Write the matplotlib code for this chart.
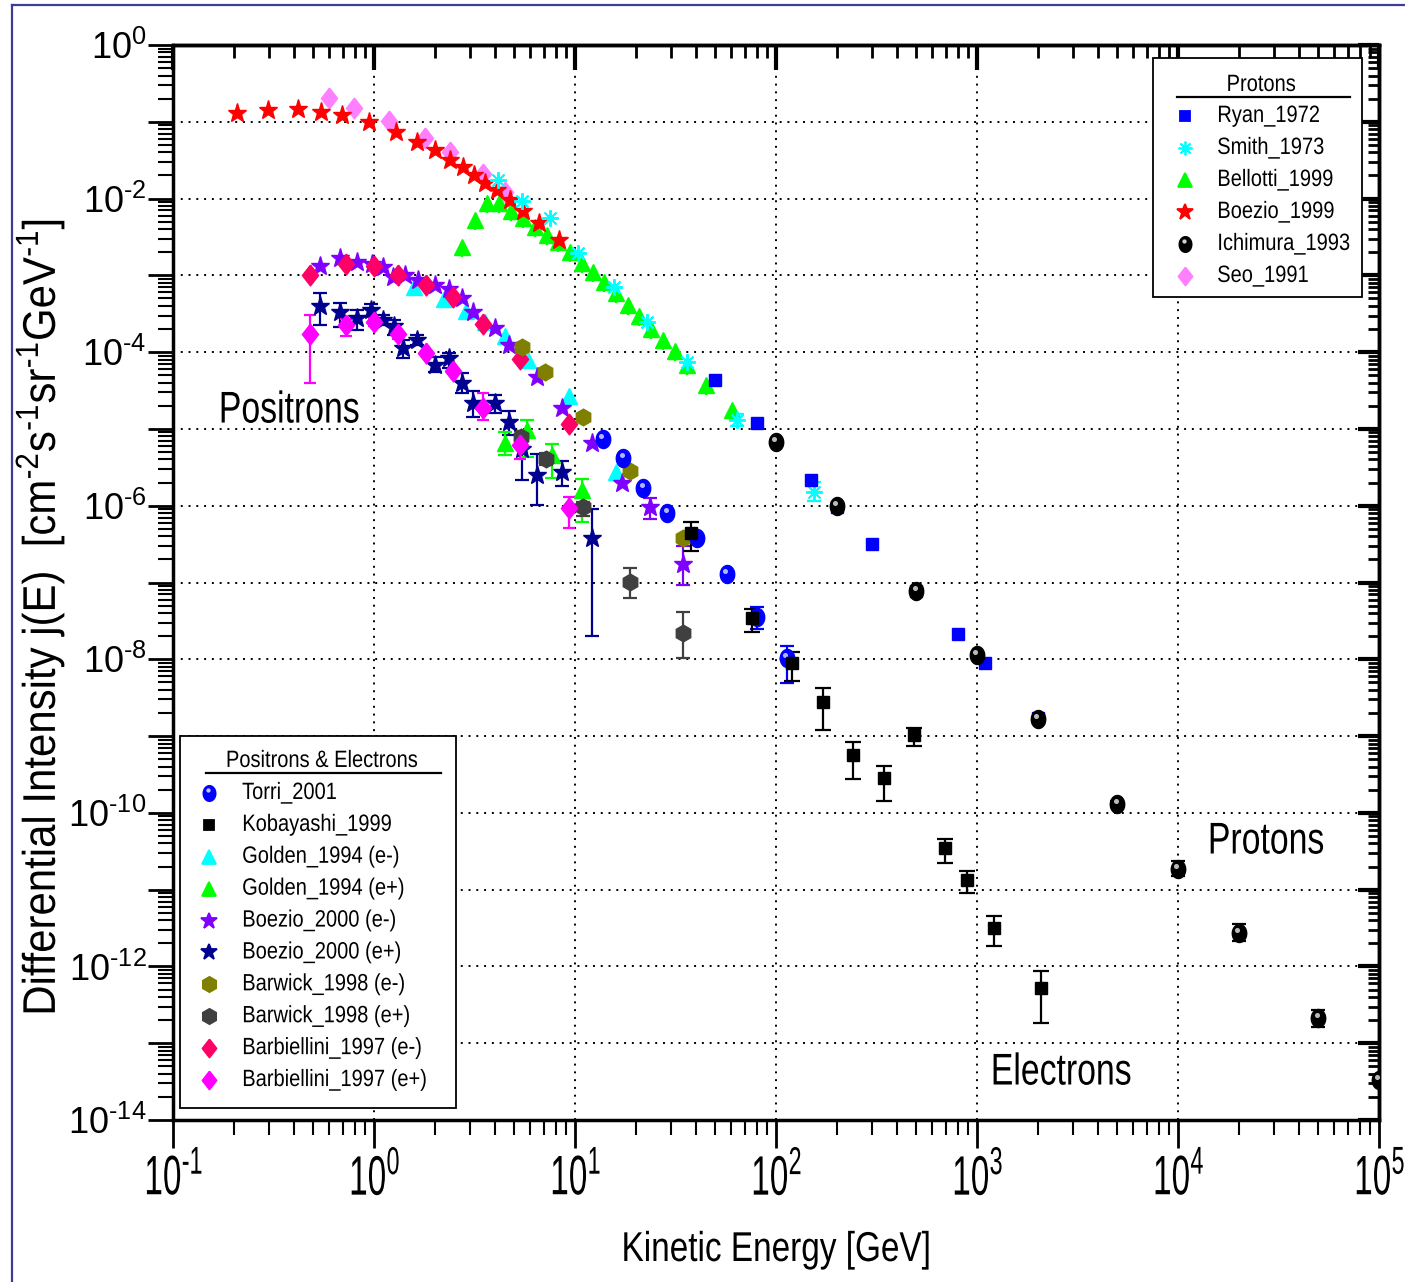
import numpy as np
import matplotlib
matplotlib.use("Agg")
import matplotlib.pyplot as plt
from matplotlib.ticker import FixedLocator, FuncFormatter, NullFormatter
from matplotlib.lines import Line2D
from matplotlib.patches import Rectangle
from matplotlib.transforms import ScaledTranslation, Affine2D
from matplotlib.patheffects import AbstractPathEffect

SANS = "Liberation Sans"
plt.rcParams["font.family"] = [SANS, "DejaVu Sans"]
plt.rcParams["mathtext.fontset"] = "custom"
plt.rcParams["mathtext.rm"] = SANS
plt.rcParams["mathtext.it"] = SANS
plt.rcParams["mathtext.bf"] = SANS
plt.rcParams["mathtext.sf"] = SANS

HY = "\u2010"  # short hyphen used in exponents

# ---------------- proton data ----------------
ryan_E = [50, 80, 150, 200, 300, 500, 800, 1100, 2000]
ryan_j = [4.35e-5, 1.19e-5, 2.13e-6, 9.5e-7, 3.16e-7, 7.8e-8, 2.12e-8, 8.9e-9, 1.72e-9]

smith_E = [4.14, 5.43, 7.51, 10.4, 15.6, 22.7, 35.9, 64.3, 154.5]
smith_j = [1.75e-2, 9.3e-3, 5.54e-3, 1.94e-3, 7.0e-4, 2.49e-4, 7.5e-5, 1.31e-5, 1.53e-6]
smith_lo = [1.75e-2, 9.3e-3, 5.54e-3, 1.94e-3, 7.0e-4, 2.49e-4, 7.5e-5, 1.09e-5, 1.16e-6]
smith_hi = [1.75e-2, 9.3e-3, 5.54e-3, 1.94e-3, 7.0e-4, 2.49e-4, 7.5e-5, 1.57e-5, 2.02e-6]

bellotti_E = [2.75, 3.18, 3.66, 4.21, 4.81, 5.53, 6.32, 7.23, 8.20, 9.44, 10.8,
              12.3, 14.0, 16.0, 18.3, 20.9, 23.9, 27.5, 31.5, 36.2, 44.9, 60.3]
bellotti_j = [2.37e-3, 5.26e-3, 8.85e-3, 8.69e-3, 6.90e-3, 5.53e-3, 4.23e-3, 3.36e-3,
              2.75e-3, 2.04e-3, 1.47e-3, 1.12e-3, 8.1e-4, 5.85e-4, 4.12e-4, 2.99e-4,
              1.99e-4, 1.44e-4, 1.02e-4, 6.8e-5, 3.74e-5, 1.77e-5]

boezio99_E = [0.207, 0.298, 0.417, 0.545, 0.693, 0.944, 1.29, 1.63, 2.01, 2.39, 2.78,
              3.15, 3.57, 4.08, 4.75, 5.53, 6.64, 8.36]
boezio99_j = [0.129, 0.1425, 0.1455, 0.135, 0.123, 0.100, 0.0743, 0.0551, 0.0429, 0.0318,
              0.0256, 0.0203, 0.0158, 0.01294, 0.00959, 0.00695, 0.00485, 0.00289]

ichimura_E = [100, 200, 500, 1000, 2000, 5000, 1e4, 2e4, 5e4, 1e5]
ichimura_j = [6.84e-6, 1.0e-6, 7.8e-8, 1.13e-8, 1.67e-9, 1.31e-10, 1.87e-11, 2.76e-12,
              2.12e-13, 3.33e-14]
ichimura_lo = [6.84e-6, 1.0e-6, 7.8e-8, 1.13e-8, 1.67e-9, 1.20e-10, 1.49e-11, 2.14e-12,
               1.65e-13, 3.33e-14]
ichimura_hi = [6.84e-6, 1.0e-6, 7.8e-8, 1.13e-8, 1.67e-9, 1.43e-10, 2.35e-11, 3.56e-12,
               2.72e-13, 3.33e-14]

seo_E = [0.600, 0.795, 1.19, 1.79, 2.39, 3.47, 4.48]
seo_j = [0.202, 0.153, 0.102, 0.061, 0.0408, 0.0207, 0.0123]

# ---------------- positron & electron data ----------------
torri_E = [13.8, 17.4, 21.9, 28.8, 40.3, 56.9, 80.2, 113]
torri_j = [7.41e-6, 4.16e-6, 1.72e-6, 7.99e-7, 3.77e-7, 1.28e-7, 3.6e-8, 1.03e-8]
torri_lo = [7.41e-6, 4.16e-6, 1.72e-6, 7.99e-7, 3.77e-7, 1.28e-7, 2.47e-8, 4.98e-9]
torri_hi = [7.41e-6, 4.16e-6, 1.72e-6, 7.99e-7, 3.77e-7, 1.28e-7, 4.81e-8, 1.51e-8]

kobayashi_E = [37.6, 75.7, 120.8, 171.8, 242.5, 346, 488, 693, 895, 1219, 2081]
kobayashi_j = [4.38e-7, 3.43e-8, 8.9e-9, 2.81e-9, 5.69e-10, 2.83e-10, 1.04e-9, 3.47e-11,
               1.34e-11, 3.16e-12, 5.31e-13]
kobayashi_lo = [2.58e-7, 2.25e-8, 5.24e-9, 1.21e-9, 2.77e-10, 1.43e-10, 7.52e-10, 2.21e-11,
                9.0e-12, 1.82e-12, 1.86e-13]
kobayashi_hi = [6.21e-7, 4.49e-8, 1.23e-8, 4.28e-9, 8.48e-10, 4.13e-10, 1.29e-9, 4.58e-11,
                1.77e-11, 4.47e-12, 8.59e-13]

golden_em_E = [1.58, 2.24, 2.87, 3.57, 4.48, 5.86, 9.36, 16.0]
golden_em_j = [7.06e-4, 4.96e-4, 3.47e-4, 2.49e-4, 1.61e-4, 7.91e-5, 2.67e-5, 2.78e-6]

golden_ep_E = [4.48, 5.80, 7.69, 10.8]
golden_ep_j = [6.52e-6, 9.56e-6, 4.52e-6, 1.61e-6]
golden_ep_lo = [4.6e-6, 4.36e-6, 2.27e-6, 6.21e-7]
golden_ep_hi = [9.0e-6, 1.31e-5, 6.28e-6, 2.23e-6]

boezio00_em_E = [0.539, 0.677, 0.826, 0.975, 1.11, 1.24, 1.43, 1.65, 2.01, 2.37, 2.75,
                 3.10, 4.00, 4.70, 6.45, 8.59, 12.1, 17.1, 23.6, 34.3]
boezio00_em_j = [1.33e-3, 1.67e-3, 1.51e-3, 1.41e-3, 1.30e-3, 9.53e-4, 1.02e-3, 8.71e-4,
                 7.5e-4, 6.65e-4, 5.04e-4, 3.37e-4, 2.08e-4, 1.24e-4, 4.80e-5, 1.86e-5,
                 6.52e-6, 1.96e-6, 9.73e-7, 1.75e-7]
boezio00_em_lo = boezio00_em_j[:18] + [6.67e-7, 9.3e-8]
boezio00_em_hi = boezio00_em_j[:18] + [1.27e-6, 3.0e-7]

boezio00_ep_E = [0.539, 0.677, 0.826, 0.963, 1.11, 1.26, 1.40, 1.64, 2.01, 2.37, 2.73,
                 3.10, 4.00, 4.71, 5.45, 6.47, 8.59, 12.1]
boezio00_ep_j = [4.0e-4, 3.37e-4, 2.76e-4, 3.54e-4, 2.63e-4, 2.19e-4, 1.12e-4, 1.44e-4,
                 6.8e-5, 8.33e-5, 4.01e-5, 2.2e-5, 2.16e-5, 1.23e-5, 5.41e-6, 2.52e-6,
                 2.78e-6, 3.77e-7]
boezio00_ep_lo = [2.26e-4, 2.15e-4, 1.95e-4, 2.96e-4, 2.26e-4, 1.67e-4, 8.33e-5, 1.24e-4,
                  5.47e-5, 6.28e-5, 2.92e-5, 1.45e-5, 1.63e-5, 8.22e-6, 2.17e-6, 1.02e-6,
                  1.83e-6, 2.04e-8]
boezio00_ep_hi = [5.86e-4, 4.41e-4, 3.54e-4, 4.24e-4, 3.05e-4, 2.63e-4, 1.44e-4, 1.67e-4,
                  8.6e-5, 9.68e-5, 5.31e-5, 3.15e-5, 2.77e-5, 1.73e-5, 7.94e-6, 4.72e-6,
                  3.78e-6, 9.0e-7]

barwick_em_E = [5.43, 7.13, 11.0, 18.8, 34.6]
barwick_em_j = [1.18e-4, 5.57e-5, 1.45e-5, 2.8e-6, 3.77e-7]

barwick_ep_E = [5.38, 7.14, 11.0, 18.8, 34.3]
barwick_ep_j = [7.94e-6, 4.07e-6, 9.5e-7, 1.03e-7, 2.19e-8]
barwick_ep_lo = [6.8e-6, 3.4e-6, 7.36e-7, 6.36e-8, 1.03e-8]
barwick_ep_hi = [9.3e-6, 4.9e-6, 1.13e-6, 1.56e-7, 4.1e-8]

barbiellini_E = [0.481, 0.726, 1.0, 1.32, 1.81, 2.46, 3.47, 5.33, 9.36]
barbiellini_em_j = [1.02e-3, 1.41e-3, 1.34e-3, 9.97e-4, 7.5e-4, 5.24e-4, 2.3e-4, 8.09e-5, 1.17e-5]
barbiellini_ep_j = [1.71e-4, 2.26e-4, 2.49e-4, 1.71e-4, 9.84e-5, 5.69e-5, 1.86e-5, 6.19e-6, 9.27e-7]
barbiellini_ep_lo = [4.01e-5, 1.63e-4, 2.2e-4, 1.5e-4, 9.2e-5, 5.3e-5, 1.31e-5, 4.03e-6, 5.09e-7]
barbiellini_ep_hi = [3.05e-4, 2.68e-4, 2.8e-4, 1.9e-4, 1.05e-4, 6.1e-5, 2.92e-5, 8.1e-6, 1.31e-6]


class Squeeze(AbstractPathEffect):
    """Draw text glyphs compressed along the text direction (condensed type)."""

    def __init__(self, factor, anchor="center", angle=0.0):
        super().__init__()
        self.factor = factor
        self.anchor = anchor
        self.angle = angle

    def draw_path(self, renderer, gc, tpath, affine, rgbFace=None):
        ext = tpath.get_extents(affine)
        cy = 0.5 * (ext.y0 + ext.y1)
        cx = ext.x0 if self.anchor == "left" else 0.5 * (ext.x0 + ext.x1)
        extra = (Affine2D().translate(-cx, -cy).rotate_deg(-self.angle)
                 .scale(self.factor, 1.0).rotate_deg(self.angle).translate(cx, cy))
        renderer.draw_path(gc, tpath, affine + extra, rgbFace)


# ---------------- figure ----------------
W, H = 1405, 1282
fig = plt.figure(figsize=(W / 100, H / 100), dpi=100)
ax = fig.add_axes([173 / W, 1 - 1120 / H, 1206 / W, 1075 / H])
ax.set_xscale("log")
ax.set_yscale("log")
ax.set_xlim(0.1, 1e5)
ax.set_ylim(1e-14, 1)

# marker shapes
theta = np.linspace(0, 2 * np.pi, 41)
SPHERE = list(zip(0.8 * np.sin(theta), np.cos(theta)))
DIAMOND = [(0, 1), (0.78, 0), (0, -1), (-0.78, 0), (0, 1)]
ASTER = (8, 2, 0)


def draw(E, j, color, marker, ms, lo=None, hi=None, mew=1.0, z=3, shine=None,
         capsize=5, filled=True):
    E = np.asarray(E, float)
    j = np.asarray(j, float)
    if lo is not None:
        lo = np.asarray(lo, float)
        hi = np.asarray(hi, float)
        m = (hi > j * 1.001) | (lo < j * 0.999)
        ax.errorbar(E[m], j[m], yerr=[j[m] - lo[m], hi[m] - j[m]], fmt="none",
                    ecolor=color, elinewidth=1.6, capsize=capsize, capthick=1.6,
                    zorder=z - 0.5)
    ax.plot(E, j, ls="none", marker=marker, ms=ms, mfc=color if filled else "none",
            mec=color, mew=mew, zorder=z)
    if shine is not None:
        off = ax.transData + ScaledTranslation(-1.3 / 72, 2.2 / 72, fig.dpi_scale_trans)
        ax.plot(E, j, ls="none", marker="o", ms=ms * 0.28, mfc=shine, mec="none",
                alpha=0.9, transform=off, zorder=z + 0.1)


# protons
draw(seo_E, seo_j, "#ff80ff", DIAMOND, 15, z=3)
draw(boezio99_E, boezio99_j, "#ff0000", "*", 14, z=3.2)
draw(bellotti_E, bellotti_j, "#00ff00", "^", 12, lo=[v / 1.35 for v in bellotti_j],
     hi=bellotti_j, z=3.1, capsize=0)
draw(smith_E, smith_j, "#00ffff", ASTER, 12, lo=smith_lo, hi=smith_hi, mew=1.4, z=3.3,
     filled=False, capsize=5)
draw(ryan_E, ryan_j, "#0000ff", "s", 8.5, z=3.4)
draw(ichimura_E, ichimura_j, "#000000", SPHERE, 13, lo=ichimura_lo, hi=ichimura_hi,
     z=3.5, shine="#d0d0d0", capsize=5)

# positrons and electrons
draw(golden_em_E, golden_em_j, "#00ffff", "^", 12, z=3)
draw(boezio00_em_E, boezio00_em_j, "#8000ff", "*", 14, lo=boezio00_em_lo,
     hi=boezio00_em_hi, z=3.1)
draw(barbiellini_E, barbiellini_em_j, "#ff0066", DIAMOND, 15, z=3.2)
draw(barwick_em_E, barwick_em_j, "#808000", "h", 12, z=3.3)
draw(boezio00_ep_E, boezio00_ep_j, "#000090", "*", 14, lo=boezio00_ep_lo,
     hi=boezio00_ep_hi, z=3.1)
draw(golden_ep_E, golden_ep_j, "#00ff00", "^", 12, lo=golden_ep_lo, hi=golden_ep_hi, z=3.2)
draw(barwick_ep_E, barwick_ep_j, "#404040", "h", 12, lo=barwick_ep_lo, hi=barwick_ep_hi,
     z=3.3)
draw(barbiellini_E, barbiellini_ep_j, "#ff00ff", DIAMOND, 15, lo=barbiellini_ep_lo,
     hi=barbiellini_ep_hi, z=3.4, capsize=4)
draw(torri_E, torri_j, "#0000ff", SPHERE, 13, lo=torri_lo, hi=torri_hi, z=3.5,
     shine="#c8c8ff")
draw(kobayashi_E, kobayashi_j, "#000000", "s", 9, lo=kobayashi_lo, hi=kobayashi_hi, z=3.6,
     capsize=5.5)

# ---------------- axes styling ----------------
xmaj = FixedLocator(10.0 ** np.arange(-1, 6))
xmin = FixedLocator([m * 10.0 ** e for e in range(-1, 5) for m in range(2, 10)])
ymaj = FixedLocator(10.0 ** np.arange(-14, 1))
ymin = FixedLocator([m * 10.0 ** e for e in range(-14, 0) for m in range(2, 10)])


def exp_label(v, font):
    e = int(round(np.log10(v)))
    s = str(e).replace("-", HY)
    return r"$\math%s{10^{%s}}$" % (font, s)


ax.xaxis.set_major_locator(xmaj)
ax.xaxis.set_minor_locator(xmin)
ax.yaxis.set_major_locator(ymaj)
ax.yaxis.set_minor_locator(ymin)
ax.xaxis.set_major_formatter(FuncFormatter(lambda v, p: exp_label(v, "rm")))
ax.yaxis.set_major_formatter(FuncFormatter(
    lambda v, p: exp_label(v, "sf") if int(round(np.log10(v))) % 2 == 0 else ""))
ax.xaxis.set_minor_formatter(NullFormatter())
ax.yaxis.set_minor_formatter(NullFormatter())

ax.tick_params(axis="x", which="major", direction="out", length=20, width=2,
               labelsize=40, pad=5)
ax.tick_params(axis="x", which="minor", direction="out", length=11, width=1.5)
ax.tick_params(axis="y", which="major", direction="out", length=18, width=2,
               labelsize=26, pad=1)
ax.tick_params(axis="y", which="minor", direction="out", length=11, width=1.5)

for s in ax.spines.values():
    s.set_linewidth(2.5)

top = ax.secondary_xaxis("top")
top.xaxis.set_major_locator(xmaj)
top.xaxis.set_minor_locator(xmin)
top.xaxis.set_major_formatter(NullFormatter())
top.xaxis.set_minor_formatter(NullFormatter())
top.tick_params(which="major", direction="in", length=18, width=3)
top.tick_params(which="minor", direction="in", length=9, width=2)
top.spines["top"].set_linewidth(2.5)

right = ax.secondary_yaxis("right")
right.yaxis.set_major_locator(ymaj)
right.yaxis.set_minor_locator(ymin)
right.yaxis.set_major_formatter(NullFormatter())
right.yaxis.set_minor_formatter(NullFormatter())
right.tick_params(which="major", direction="in", length=15, width=3)
right.tick_params(which="minor", direction="in", length=8, width=2)
right.spines["right"].set_linewidth(2.5)

ax.grid(True, which="major", color="black", ls=(0, (1, 3)), lw=1.4)
ax.set_axisbelow(True)

for lab in ax.get_xticklabels():
    lab.set_path_effects([Squeeze(0.6)])

# ---------------- annotations ----------------
for txt, x, y in [("Positrons", 0.0373, 0.6595), ("Protons", 0.8574, 0.2586),
                  ("Electrons", 0.6774, 0.0437)]:
    ax.text(x, y, txt, transform=ax.transAxes, fontsize=32, ha="left", va="center",
            zorder=6, path_effects=[Squeeze(0.76, "left")])

fig.text(776 / W, 1 - 1250 / H, "Kinetic Energy [GeV]", fontsize=30, ha="center",
         va="center", path_effects=[Squeeze(0.8)])
ylab = (r"Differential Intensity j(E)  [cm$^{%s2}$s$^{%s1}$sr$^{%s1}$GeV$^{%s1}$]"
        % (HY, HY, HY, HY))
fig.text(40 / W, 1 - 617 / H, ylab, fontsize=33, rotation=90, ha="center", va="center",
         path_effects=[Squeeze(0.915, "center", 90)])


# ---------------- legends ----------------
def legend_box(box, title, title_xy, rule, entries, mx, tx, y0, dy):
    x0, y0b, x1, y1 = box
    ax.add_patch(Rectangle((x0, y0b), x1 - x0, y1 - y0b, transform=ax.transAxes,
                           fc="white", ec="black", lw=1.3, zorder=10, clip_on=False))
    ax.text(title_xy[0], title_xy[1], title, transform=ax.transAxes, fontsize=17,
            ha="center", va="center", zorder=11, path_effects=[Squeeze(0.85)])
    ax.add_line(Line2D([rule[0], rule[1]], [rule[2], rule[2]], transform=ax.transAxes,
                       color="black", lw=1.6, zorder=11))
    for k, (label, color, marker, ms, filled, shine) in enumerate(entries):
        y = y0 - k * dy
        ax.add_line(Line2D([mx], [y], transform=ax.transAxes, ls="none", marker=marker,
                           ms=ms, mfc=color if filled else "none", mec=color, mew=1.3,
                           zorder=11, clip_on=False))
        if shine is not None:
            off = ax.transAxes + ScaledTranslation(-1.0 / 72, 1.8 / 72, fig.dpi_scale_trans)
            ax.add_line(Line2D([mx], [y], transform=off, ls="none", marker="o",
                               ms=ms * 0.28, mfc=shine, mec="none", zorder=11.5,
                               clip_on=False))
        ax.text(tx, y, label, transform=ax.transAxes, fontsize=17, ha="left",
                va="center", zorder=11, path_effects=[Squeeze(0.85, "left")])


proton_entries = [
    ("Ryan_1972", "#0000ff", "s", 7, True, None),
    ("Smith_1973", "#00ffff", ASTER, 10, False, None),
    ("Bellotti_1999", "#00ff00", "^", 10, True, None),
    ("Boezio_1999", "#ff0000", "*", 12, True, None),
    ("Ichimura_1993", "#000000", SPHERE, 11, True, "#d0d0d0"),
    ("Seo_1991", "#ff80ff", DIAMOND, 13, True, None),
]
legend_box((0.8126, 0.7656, 0.9859, 0.9879), "Protons", (0.9022, 0.9628),
           (0.8325, 0.9760, 0.9516), proton_entries, 0.8391, 0.8657, 0.9340, 0.02977)

lepton_entries = [
    ("Torri_2001", "#0000ff", SPHERE, 11, True, "#c8c8ff"),
    ("Kobayashi_1999", "#000000", "s", 7, True, None),
    ("Golden_1994 (e-)", "#00ffff", "^", 10, True, None),
    ("Golden_1994 (e+)", "#00ff00", "^", 10, True, None),
    ("Boezio_2000 (e-)", "#8000ff", "*", 12, True, None),
    ("Boezio_2000 (e+)", "#000090", "*", 12, True, None),
    ("Barwick_1998 (e-)", "#808000", "h", 11, True, None),
    ("Barwick_1998 (e+)", "#404040", "h", 11, True, None),
    ("Barbiellini_1997 (e-)", "#ff0066", DIAMOND, 13, True, None),
    ("Barbiellini_1997 (e+)", "#ff00ff", DIAMOND, 13, True, None),
]
legend_box((0.0058, 0.0112, 0.2347, 0.3572), "Positrons & Electrons", (0.1235, 0.3340),
           (0.0274, 0.2222, 0.3228), lepton_entries, 0.0299, 0.0572, 0.3042, 0.02967)

# outer frame lines along the left and top of the figure
frame_c = "#3c3c9c"
fig.add_artist(Line2D([12 / W, 12 / W], [0, 1 - 5 / H], transform=fig.transFigure,
                      color=frame_c, lw=1.6))
fig.add_artist(Line2D([12 / W, 1], [1 - 5 / H, 1 - 5 / H], transform=fig.transFigure,
                      color=frame_c, lw=1.6))

fig.savefig("out.png", dpi=100)
